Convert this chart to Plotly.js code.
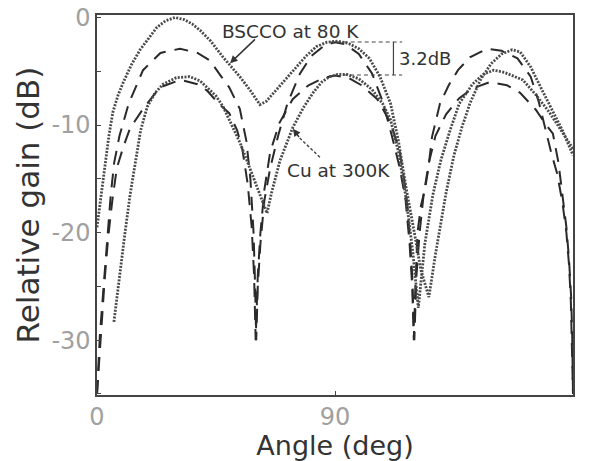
<!DOCTYPE html>
<html>
<head>
<meta charset="utf-8">
<script src="https://cdn.plot.ly/plotly-3.0.1.min.js"></script>
<style>html,body{margin:0;padding:0;background:#fff;}#chart{width:592px;height:461px;}</style>
</head>
<body>
<div id="chart"></div>
<script>
// BSCCO at 80 K (measured, dotted)
const bsccoAngle = [0, 1, 2, 3, 4.5, 6, 8, 10, 13, 16.3, 19.5, 22.7, 26, 29.5, 33, 36, 39, 43, 47.7, 51, 54, 58, 61.6, 64, 68, 72, 75.6, 79, 83, 87, 91, 95, 99, 103, 107, 111, 114, 117, 120, 122.5, 125.5, 128, 132, 135, 138, 141, 145, 149, 153, 157, 160, 164, 168, 172, 176, 180];
const bsccoGain  = [-19.5, -17.5, -15.5, -13.5, -11, -8.8, -7.2, -6, -4.4, -3.0, -1.9, -0.9, -0.3, 0, -0.2, -0.6, -1.2, -2.2, -3.7, -4.6, -5.5, -6.8, -8.1, -7.8, -6.7, -5.6, -4.6, -3.6, -2.7, -2.3, -2.2, -2.4, -2.9, -3.8, -5.5, -8, -11.5, -16, -20, -23.5, -26, -22, -16.3, -12.8, -10.2, -8, -5.8, -4.3, -3.4, -3.0, -3.2, -4.6, -6.6, -8.5, -10.5, -12.8];

// Cu at 300 K (measured, dotted)
const cuAngle = [6.4, 8.5, 10.6, 12.5, 14.4, 16.5, 19, 22, 25, 30, 35, 39, 41.6, 45, 47.7, 51, 54, 57, 60, 62.5, 64.3, 66, 69.2, 74.1, 78, 81.7, 85, 88, 91, 94.5, 99, 104, 108, 111, 114, 117, 119.5, 121.5, 124, 127, 130, 133.5, 137, 142, 146, 150, 154, 158, 161, 166, 171, 175, 180];
const cuGain  = [-28.3, -24, -20, -16.5, -13.5, -10.5, -8.3, -7, -6.2, -5.6, -5.5, -5.9, -6.5, -7.3, -8.3, -10, -11.6, -13.5, -15.5, -17.2, -18.2, -16.3, -13.3, -10.2, -8.4, -7, -6, -5.5, -5.3, -5.3, -5.7, -6.7, -8.0, -9.5, -12.5, -17, -22, -27, -21, -16.5, -13.3, -10.5, -8, -6.2, -5.3, -4.9, -5.1, -5.5, -5.8, -7.2, -8.8, -10.3, -12.2];

// Calculated, upper dashed curve
const dashUpperAngle = [0, 0.7, 1.1, 2.6, 3.8, 5.2, 6.5, 8.5, 12, 17.4, 24, 31.4, 38, 42.7, 47, 50, 54, 56.5, 58, 59.2, 59.8, 60.2, 60.8, 61.8, 63.3, 65.5, 68.5, 72, 76.8, 81, 86, 90, 94, 99, 104, 108, 111.5, 114.5, 116.7, 118.2, 119.2, 119.8, 120.4, 121.2, 122.5, 124, 125.2, 126.7, 129.7, 133, 136.5, 141, 147.5, 153, 159, 164, 167, 169.5, 172, 174, 176, 177.5, 178.5, 179.2, 179.6, 180];
const dashUpperGain  = [-35, -32, -29.5, -24.7, -20.5, -16.5, -13.5, -11, -8, -4.9, -3.3, -2.9, -3.3, -4, -5.5, -6.5, -8.5, -11.5, -15, -20, -25, -30, -25, -21, -17, -14, -11, -8, -5.2, -3.6, -2.6, -2.3, -2.5, -3.4, -5.2, -7.8, -11, -14, -17, -21, -25, -30, -25, -20, -17.5, -16, -14.2, -11.1, -8, -6.3, -4.9, -3.7, -2.9, -3.1, -3.8, -5.5, -7.8, -10.3, -12.8, -14.5, -17.2, -20, -23, -26.5, -30, -35];

// Calculated, lower dashed curve
const dashLowerAngle = [0, 0.8, 1.3, 2.8, 4.2, 5.8, 7.5, 10, 12.5, 17.4, 23.8, 31.4, 38, 41.6, 46, 50, 53, 55, 57, 58.5, 59.4, 60, 60.8, 61.8, 63.3, 65.5, 69, 74, 80, 86, 90, 95, 100, 106, 111, 114.5, 116.7, 118.2, 119.2, 120, 120.8, 122, 123.5, 125.5, 128, 132, 137, 142, 148.6, 155, 160, 166, 169, 172.4, 174.5, 176, 177.5, 178.5, 179.3, 179.7, 180];
const dashLowerGain  = [-35, -32, -29.5, -24.7, -20.5, -17, -14, -12, -10.3, -8.5, -6.5, -5.8, -6.2, -6.8, -8, -8.9, -10.5, -12.3, -15.5, -19.5, -24, -30, -24, -20, -16, -12.5, -9.8, -7.6, -6.3, -5.6, -5.4, -5.6, -6.3, -7.6, -9.8, -12.5, -16, -20, -24, -30, -24, -20, -16.5, -13.5, -11, -9, -7.5, -6.6, -6, -6.3, -7, -8.6, -9.7, -10.8, -13.5, -16.5, -19.5, -22.5, -26, -29.5, -35];

// Axis ticks
const xTickVals = [0, 90, 180];
const xTickText = ['0', '90', '180'];
const yTickVals = [0, -10, -20, -30];
const yTickText = ['0', '-10', '-20', '-30'];

// Annotation values (3.2 dB difference between middle-lobe peaks)
const peakBscco = -2.28;
const peakCu = -5.35;

const FONT = 'DejaVu Sans, Arial, sans-serif';
const dottedStyle = {color: '#4a4a4a', width: 2.8, dash: '2px,1.4px'};
const dashedStyle = {color: '#2a2a2a', width: 2, dash: '14px,9px'};

const traces = [
  {x: dashUpperAngle, y: dashUpperGain, mode: 'lines', line: dashedStyle, name: 'calc upper', hoverinfo: 'skip'},
  {x: dashLowerAngle, y: dashLowerGain, mode: 'lines', line: dashedStyle, name: 'calc lower', hoverinfo: 'skip'},
  {x: bsccoAngle, y: bsccoGain, mode: 'lines', line: dottedStyle, name: 'BSCCO at 80 K'},
  {x: cuAngle, y: cuGain, mode: 'lines', line: dottedStyle, name: 'Cu at 300K'}
];

const layout = {
  width: 592, height: 461,
  margin: {l: 97, r: 19, t: 15, b: 66, pad: 0},
  paper_bgcolor: '#ffffff', plot_bgcolor: '#ffffff',
  showlegend: false,
  font: {family: FONT, color: '#333'},
  xaxis: {
    range: [0, 180], tickvals: xTickVals, ticktext: xTickText,
    ticks: 'inside', ticklen: 4, tickcolor: '#444',
    showline: true, mirror: true, linecolor: '#444', linewidth: 1.6,
    showgrid: false, zeroline: false,
    tickfont: {family: FONT, size: 24, color: '#a0a0a0'},
    title: {text: 'Angle (deg)', font: {family: FONT, size: 27, color: '#333'}, standoff: 4}
  },
  yaxis: {
    range: [-35.1, 0.23], tickvals: yTickVals, ticktext: yTickText,
    ticks: 'inside', ticklen: 4, tickcolor: '#444',
    minor: {dtick: 5, tick0: 0, ticks: 'inside', ticklen: 4, tickcolor: '#444', showgrid: false},
    showline: true, mirror: true, linecolor: '#444', linewidth: 1.6,
    showgrid: false, zeroline: false,
    tickfont: {family: FONT, size: 24, color: '#a0a0a0'},
    title: {text: 'Relative gain (dB)', font: {family: FONT, size: 31, color: '#333'}, standoff: 2}
  },
  shapes: [
    {type: 'line', xref: 'x', yref: 'y', x0: 88, x1: 115.4, y0: peakBscco, y1: peakBscco, line: {color: '#444', width: 1.2, dash: '4px,3px'}},
    {type: 'line', xref: 'x', yref: 'y', x0: 93, x1: 115.4, y0: peakCu, y1: peakCu, line: {color: '#444', width: 1.2, dash: '4px,3px'}},
    {type: 'line', xref: 'x', yref: 'y', x0: 112.1, x1: 112.1, y0: peakBscco, y1: peakCu, line: {color: '#444', width: 1.2}},
    {type: 'line', xref: 'x', yref: 'y', x0: 84.3, x1: 76.2, y0: -13, y1: -11.1, line: {color: '#444', width: 1.4, dash: '3px,2px'}}
  ],
  annotations: [
    {xref: 'x', yref: 'y', x: 73, y: -1.35, text: 'BSCCO at 80 K', showarrow: false, font: {family: FONT, size: 18.5, color: '#333'}, xanchor: 'center', yanchor: 'middle'},
    {xref: 'x', yref: 'y', x: 50.3, y: -4.25, ax: 60.3, ay: -1.9, axref: 'x', ayref: 'y', text: '', showarrow: true, arrowhead: 2, arrowsize: 1, arrowwidth: 1.5, arrowcolor: '#333'},
    {xref: 'x', yref: 'y', x: 91.5, y: -14.2, text: 'Cu at 300K', showarrow: false, font: {family: FONT, size: 18.5, color: '#333'}, xanchor: 'center', yanchor: 'middle'},
    {xref: 'x', yref: 'y', x: 74.1, y: -10.35, ax: 76.8, ay: -11.25, axref: 'x', ayref: 'y', text: '', showarrow: true, arrowhead: 2, arrowsize: 1, arrowwidth: 1.5, arrowcolor: '#333'},
    {xref: 'x', yref: 'y', x: 113.4, y: -3.8, text: '3.2dB', showarrow: false, font: {family: FONT, size: 18, color: '#333'}, xanchor: 'left', yanchor: 'middle'}
  ]
};

Plotly.newPlot('chart', traces, layout, {staticPlot: true, displayModeBar: false});
</script>
</body>
</html>
